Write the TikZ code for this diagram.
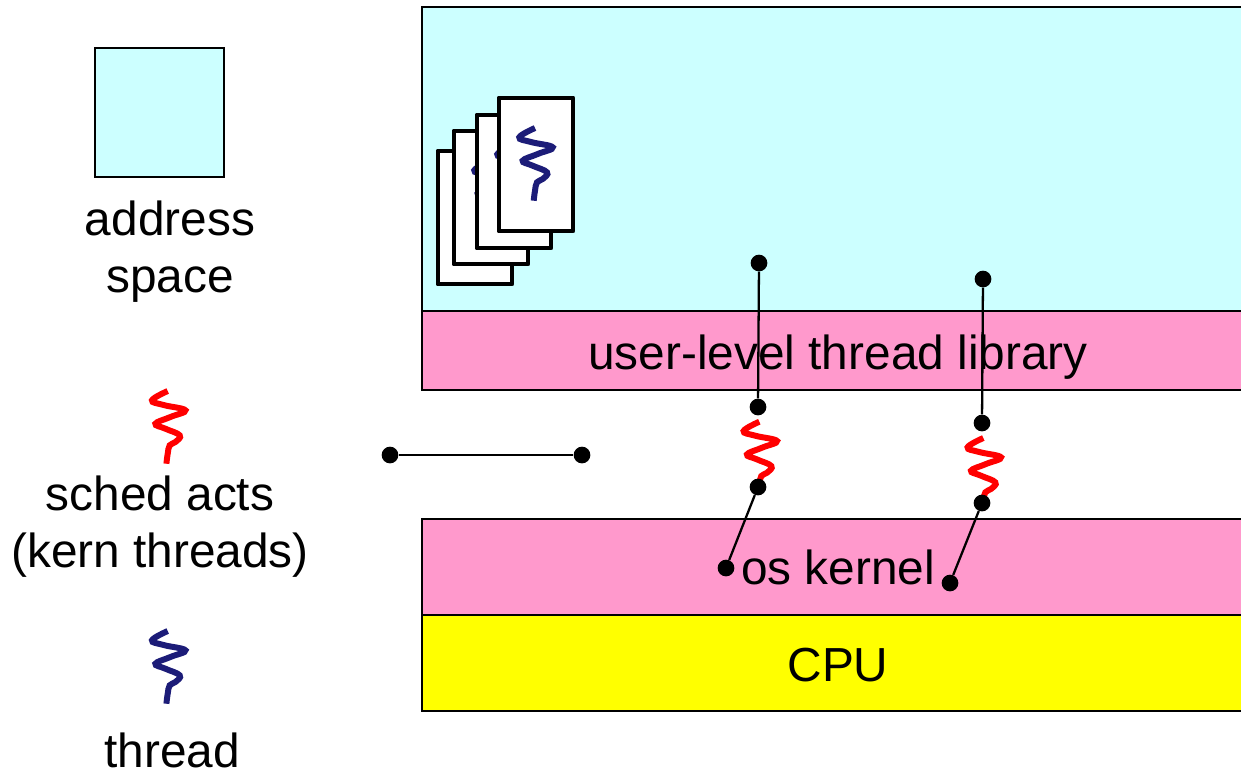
\documentclass[tikz,border=0pt]{standalone}
\usepackage{fontspec}
\setmainfont{Liberation Sans}
\definecolor{addrcyan}{HTML}{CCFFFF}
\definecolor{libpink}{HTML}{FF99CC}
\definecolor{cpuyellow}{HTML}{FFFF00}
\definecolor{threadblue}{HTML}{1C1C78}
\tikzset{
  squiggle/.pic={
    \draw[line width=3.4pt,pic actions] plot[smooth,tension=0.7] coordinates
      {(0,0) (-15.7,9.3) (-4,14) (17.7,19.3) (2.7,26) (-12.3,32.7) (-2.3,37.7) (12,44.3) (7.7,51) (2,54.3) (0,62.7) (-1.3,72.7)};
  },
  label text/.style={font=\fontsize{27.2pt}{27.2pt}\selectfont,anchor=base,inner sep=0pt},
  dot/.style={circle,fill=black,minimum size=9.5pt,inner sep=0pt},
  band/.style={draw=black,line width=1.3pt},
  card/.style={draw=black,fill=white,line width=2.8pt,line join=round},
  wire/.style={line width=1.3pt}
}
\begin{document}
\begin{tikzpicture}[x=0.02cm,y=-0.02cm]
  \useasboundingbox (0,0) rectangle (1241,769);
  \clip (0,0) rectangle (1241,769);

  % legend
  \draw[band,fill=addrcyan] (95,48) rectangle (224,177);
  \node[label text] (addr) at (170,235) {address};
  \node[label text] (space) at (170,292) {space};
  \pic[red] at (167.7,391) {squiggle};
  \node[label text] (sched) at (160,510) {sched acts};
  \node[label text] (kern) at (160,567) {(kern threads)};
  \pic[threadblue] at (167.7,631) {squiggle};
  \node[label text] (thread) at (172,767) {thread};

  % layers
  \draw[band,fill=addrcyan] (422,7) rectangle (1250,311);
  \draw[band,fill=libpink] (422,311) rectangle (1250,390);
  \draw[band,fill=libpink] (422,519) rectangle (1250,615);
  \draw[band,fill=cpuyellow] (422,615) rectangle (1250,711);
  \node[label text] (lib) at (838,369) {user-level thread library};
  \node[label text] (kernel) at (838,584) {os kernel};
  \node[label text] (cpu) at (838,681) {CPU};

  % stack of threads
  \foreach \x/\y in {438/151,454/131,477/115,499/98}{
    \draw[card] (\x,\y) rectangle (\x+74,\y+133);
    \pic[threadblue] at (\x+36,\y+30) {squiggle};
  }

  \pic[red] at (759.3,421.7) {squiggle};
  \pic[red] at (983.3,438) {squiggle};

  \foreach \name/\x/\y in {ua/759/263,ub/758/407,uc/758/487,ud/726/568,
                           va/983/279,vb/982/423,vc/982/503,vd/950/583,
                           la/390/455,lb/582/455}{
    \node[dot] (\name) at (\x,\y) {};
  }
  \draw[wire] (ua) -- (ub);
  \draw[wire] (uc) -- (ud);
  \draw[wire] (va) -- (vb);
  \draw[wire] (vc) -- (vd);
  \draw[wire] (la) -- (lb);
\end{tikzpicture}
\end{document}
